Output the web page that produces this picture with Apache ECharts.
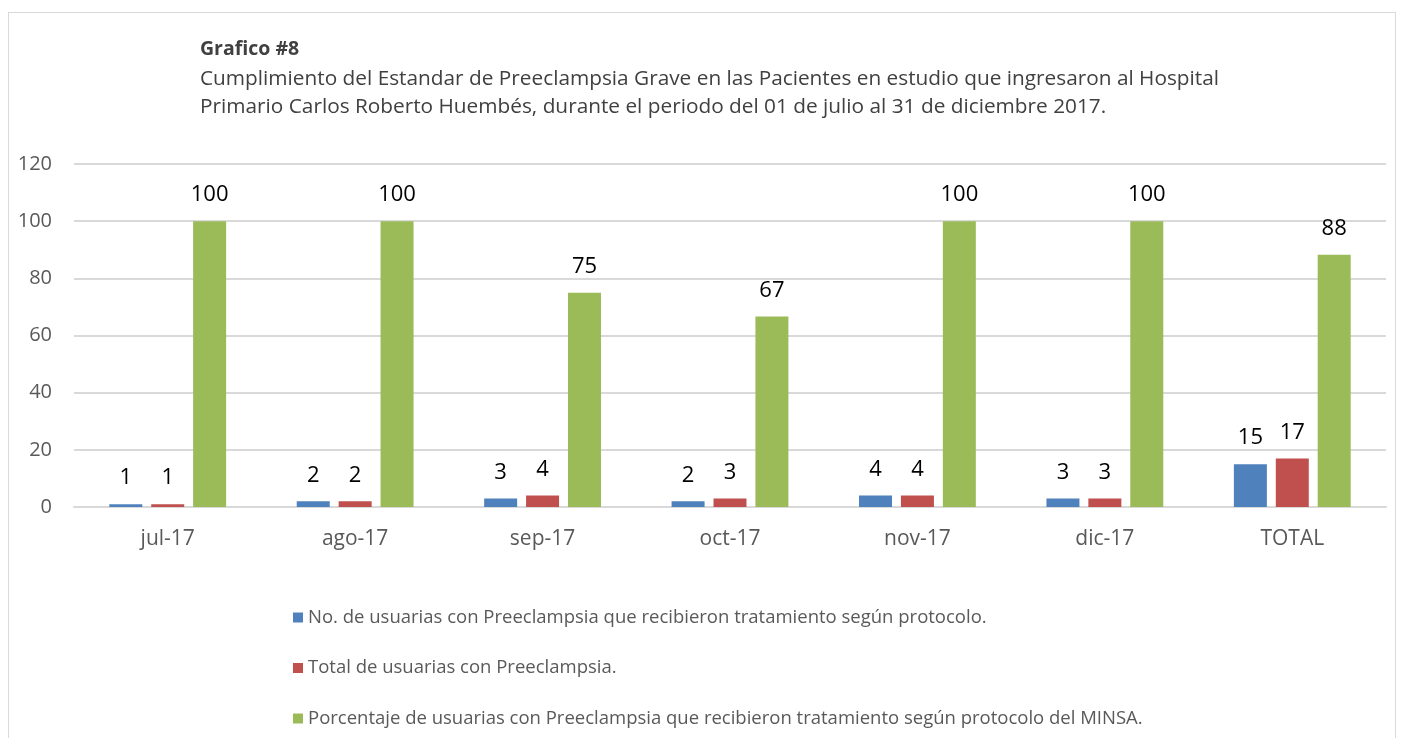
<!DOCTYPE html>
<html>
<head>
<meta charset="utf-8">
<script src="https://cdn.jsdelivr.net/npm/echarts@6/dist/echarts.min.js"></script>
<style>
	html, body { margin: 0; padding: 0; background: #fff; }
	#frame {
		position: absolute; left: 8px; top: 12px; width: 1388px; height: 740px;
		border: 1px solid #d9d9d9; box-sizing: border-box;
	}
	#chart { width: 1403px; height: 738px; position: absolute; left: 0; top: 0; }
</style>
</head>
<body>
<div id="frame"></div>
<div id="chart"></div>
<script>
// datos del grafico
const categories = ['jul-17', 'ago-17', 'sep-17', 'oct-17', 'nov-17', 'dic-17', 'TOTAL'];
const tratadas = [1, 2, 3, 2, 4, 3, 15];
const totalUsuarias = [1, 2, 4, 3, 4, 3, 17];
const porcentaje = [100, 100, 75, 66.67, 100, 100, 88.24];
const yTicks = [0, 20, 40, 60, 80, 100, 120];

const seriesNames = [
	'No. de usuarias con Preeclampsia que recibieron tratamiento según protocolo.',
	'Total de usuarias con Preeclampsia.',
	'Porcentaje de usuarias con Preeclampsia que recibieron tratamiento según protocolo del MINSA.',
];
const colors = ['#4f81bd', '#c0504d', '#9bbb59'];
const font = '"Open Sans", sans-serif';

const makeSeries = (name, data, color) => ({
	name: name,
	type: 'bar',
	data: data,
	barWidth: 33,
	barGap: '27%',
	itemStyle: { color: color },
	label: {
		show: true,
		position: 'top',
		distance: 15,
		color: '#000',
		fontSize: 22,
		fontFamily: font,
		formatter: (p) => Math.round(p.value),
	},
	animation: false,
});

const chart = echarts.init(document.getElementById('chart'));
chart.setOption({
	backgroundColor: 'transparent',
	title: {
		text: 'Grafico #8',
		subtext: 'Cumplimiento del Estandar de Preeclampsia Grave en las Pacientes en estudio que ingresaron al Hospital\nPrimario Carlos Roberto Huembés, durante el periodo del 01 de julio al 31 de diciembre 2017.',
		left: 195,
		top: 34,
		itemGap: 6,
		textStyle: { fontFamily: font, fontSize: 19.5, fontWeight: 'bold', color: '#404040' },
		subtextStyle: { fontFamily: font, fontSize: 20.8, color: '#404040', lineHeight: 28 },
	},
	legend: {
		orient: 'vertical',
		left: 288,
		top: 603,
		itemGap: 31.5,
		itemWidth: 10,
		itemHeight: 10,
		icon: 'rect',
		data: seriesNames,
		textStyle: { fontFamily: font, fontSize: 18.5, color: '#595959' },
	},
	grid: { left: 74, right: 17, top: 164, bottom: 231 },
	xAxis: {
		type: 'category',
		data: categories,
		axisLine: { lineStyle: { color: '#d9d9d9', width: 2 } },
		axisTick: { show: false },
		axisLabel: { color: '#595959', fontSize: 21, fontFamily: font, margin: 22 },
	},
	yAxis: {
		type: 'value',
		min: yTicks[0],
		max: yTicks[yTicks.length - 1],
		interval: 20,
		axisLine: { show: false },
		axisTick: { show: false },
		axisLabel: { color: '#595959', fontSize: 20, fontFamily: font, margin: 22 },
		splitLine: { lineStyle: { color: '#d9d9d9', width: 2 } },
	},
	series: [
		makeSeries(seriesNames[0], tratadas, colors[0]),
		makeSeries(seriesNames[1], totalUsuarias, colors[1]),
		makeSeries(seriesNames[2], porcentaje, colors[2]),
	],
});
</script>
</body>
</html>
